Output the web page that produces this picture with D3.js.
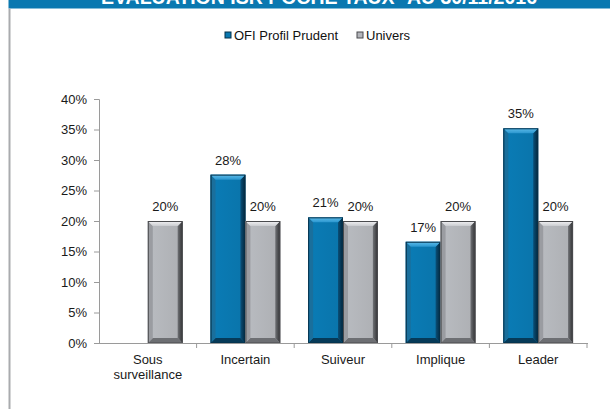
<!DOCTYPE html>
<html>
<head>
<meta charset="utf-8">
<script src="https://cdn.jsdelivr.net/npm/d3@7"></script>
<style>
html,body{margin:0;padding:0;background:#fff;}
svg{display:block;font-family:"Liberation Sans",Arial,sans-serif;}
</style>
</head>
<body>
<svg id="chart" width="610" height="409"></svg>
<script>
const title = "EVALUATION ISR POCHE TAUX* AU 30/11/2016";
const categories = ["Sous\nsurveillance", "Incertain", "Suiveur", "Implique", "Leader"];
const seriesNames = ["OFI Profil Prudent", "Univers"];
const ofiValues = [null, 0.276, 0.206, 0.166, 0.352];
const universValues = [0.20, 0.20, 0.20, 0.20, 0.20];
const yTicks = [0, 0.05, 0.10, 0.15, 0.20, 0.25, 0.30, 0.35, 0.40];

const FONT = "'Liberation Sans', Arial, sans-serif";
const svg = d3.select("#chart");
const W = 610, H = 409;
const margin = {left: 99, right: 23, top: 99, bottom: 66};

// frame: title band + left border
svg.append("rect").attr("x", 8.5).attr("y", 0).attr("width", W - 8.5).attr("height", 8.5).attr("fill", "#0a78b0");
svg.append("rect").attr("x", 8.5).attr("y", 8.5).attr("width", 2).attr("height", H - 8.5).attr("fill", "#a9abae");
svg.append("text").attr("x", 319).attr("y", 4).attr("text-anchor", "middle").attr("font-family", FONT)
  .attr("font-size", 19.5).attr("font-weight", "bold").attr("fill", "#fff").text(title);

const x0 = d3.scaleBand().domain(categories).range([margin.left, W - margin.right]).padding(0);
const x1 = d3.scaleBand().domain(seriesNames).range([0, x0.bandwidth()]).paddingInner(0).paddingOuter(0.4);
const y = d3.scaleLinear().domain([0, 0.4]).range([H - margin.bottom, margin.top]);

const defs = svg.append("defs");
function grad(id, stops, vertical) {
  const g = defs.append("linearGradient").attr("id", id)
    .attr("x1", 0).attr("y1", 0).attr("x2", vertical ? 0 : 1).attr("y2", vertical ? 1 : 0);
  stops.forEach(s => g.append("stop").attr("offset", s[0]).attr("stop-color", s[1]));
}
const palette = {
  "OFI Profil Prudent": {main: "#0a78b0", top: ["#5fbdea", "#2a96cf"], left: "#1a6f9c", right: ["#0a4f78", "#02253a"], bottom: "#063a58", edge: "#053049"},
  "Univers": {main: "#b3b5ba", top: ["#f4f4f6", "#c9cbcf"], left: "#9a9ca1", right: ["#707276", "#2e2f31"], bottom: "#6d6f73", edge: "#4a4b4e"}
};
Object.entries(palette).forEach(([k, p], i) => {
  grad("top" + i, [[0, p.top[0]], [1, p.top[1]]], true);
  grad("right" + i, [[0, p.right[0]], [1, p.right[1]]], false);
  grad("main" + i, [[0, d3.color(p.main).brighter(0.1)], [1, d3.color(p.main).darker(0.1)]], false);
});

// axes
const yAxis = d3.axisLeft(y).tickValues(yTicks).tickFormat(d3.format(".0%")).tickSize(5).tickPadding(7);
const gy = svg.append("g").attr("transform", `translate(${margin.left},0)`).call(yAxis);
gy.attr("font-family", FONT);
gy.select(".domain").attr("stroke", "#9a9a9a");
gy.selectAll(".tick line").attr("stroke", "#9a9a9a");
gy.selectAll(".tick text").attr("font-size", 13).attr("fill", "#1a1a1a").attr("font-family", FONT);

// bars
const bevel = 5;
function drawBar(g, xPos, w, v, idx) {
  const yt = y(v), yb = y(0), h = yb - yt, b = Math.min(bevel, h / 2);
  const p = palette[seriesNames[idx]];
  const bg = g.append("g");
  bg.append("rect").attr("x", xPos).attr("y", yt).attr("width", w).attr("height", h).attr("fill", `url(#main${idx})`);
  bg.append("polygon").attr("points", [[xPos, yb], [xPos + w, yb], [xPos + w - b, yb - b], [xPos + b, yb - b]].join(" ")).attr("fill", p.bottom);
  bg.append("polygon").attr("points", [[xPos, yt], [xPos + b, yt + b], [xPos + b, yb - b], [xPos, yb]].join(" ")).attr("fill", p.left);
  bg.append("polygon").attr("points", [[xPos + w, yt], [xPos + w, yb], [xPos + w - b, yb - b], [xPos + w - b, yt + b]].join(" ")).attr("fill", `url(#right${idx})`);
  bg.append("polygon").attr("points", [[xPos, yt], [xPos + w, yt], [xPos + w - b, yt + b], [xPos + b, yt + b]].join(" ")).attr("fill", `url(#top${idx})`);
  bg.append("rect").attr("x", xPos + 0.5).attr("y", yt + 0.5).attr("width", w - 1).attr("height", h - 0.5)
    .attr("fill", "none").attr("stroke", p.edge).attr("stroke-width", 1);
  g.append("text").attr("x", xPos + w / 2).attr("y", yt - 10).attr("text-anchor", "middle").attr("font-family", FONT)
    .attr("font-size", 13).attr("fill", "#1a1a1a").text(d3.format(".0%")(v));
}
const barsG = svg.append("g");
categories.forEach((c, i) => {
  [ofiValues[i], universValues[i]].forEach((v, s) => {
    if (v == null) return;
    drawBar(barsG, x0(c) + x1(seriesNames[s]), x1.bandwidth(), v, s);
  });
});

// x axis
const xg = svg.append("g");
xg.append("line").attr("x1", margin.left - 2).attr("x2", W - margin.right + 1).attr("y1", y(0) + 0.5).attr("y2", y(0) + 0.5).attr("stroke", "#9a9a9a");
categories.forEach((c, i) => {
  const xe = x0(c) + x0.bandwidth();
  xg.append("line").attr("x1", xe).attr("x2", xe).attr("y1", y(0)).attr("y2", y(0) + 5).attr("stroke", "#9a9a9a");
  const lines = c.split("\n");
  const t = xg.append("text").attr("text-anchor", "middle").attr("font-size", 13).attr("fill", "#1a1a1a").attr("font-family", FONT);
  lines.forEach((ln, j) => {
    t.append("tspan").attr("x", x0(c) + x0.bandwidth() / 2).attr("y", y(0) + 21 + j * 15).text(ln);
  });
});

// legend
const legend = svg.append("g");
const lx = [225, 357];
seriesNames.forEach((n, i) => {
  const p = palette[n];
  legend.append("rect").attr("x", lx[i]).attr("y", 32).attr("width", 6).attr("height", 6)
    .attr("fill", p.main).attr("stroke", p.edge).attr("stroke-width", 1);
  legend.append("text").attr("x", lx[i] + 9).attr("y", 39.5).attr("font-size", 13).attr("fill", "#111").attr("font-family", FONT).text(n);
});
</script>
</body>
</html>
